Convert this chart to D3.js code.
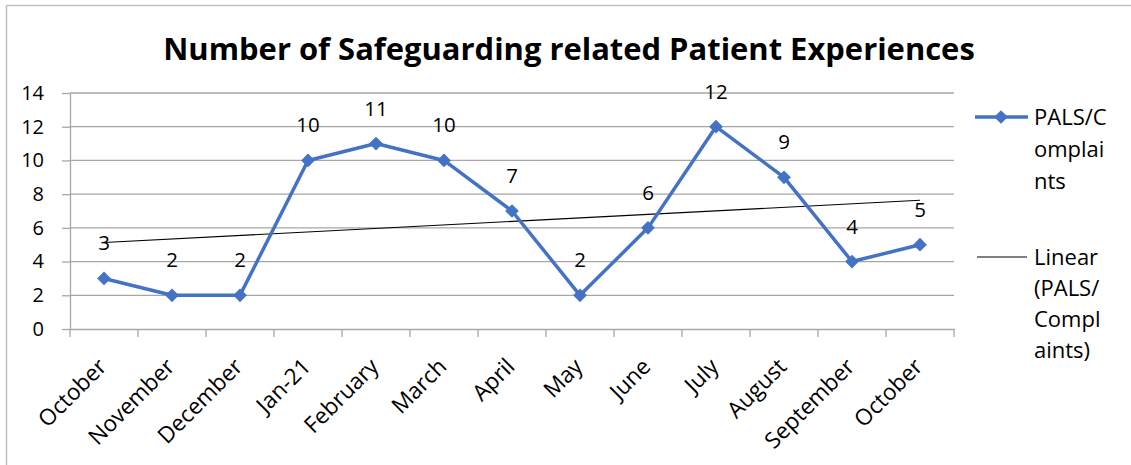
<!DOCTYPE html>
<html><head><meta charset="utf-8">
<script src="https://cdn.jsdelivr.net/npm/d3@7"></script>
<style>body{margin:0;background:#fff}svg{display:block}text{font-family:"Open Sans","Noto Sans",sans-serif}</style>
</head><body>
<svg id="c" width="1131" height="465"></svg>
<script>
const categories = ["October","November","December","Jan-21","February","March","April","May","June","July","August","September","October"];
const values = [3,2,2,10,11,10,7,2,6,12,9,4,5];
const yTicks = [0,2,4,6,8,10,12,14];
const title = "Number of Safeguarding related Patient Experiences";
const seriesName = ["PALS/C","omplai","nts"];
const trendName = ["Linear","(PALS/","Compl","aints)"];

const svg = d3.select("#c");
const blue = "#4472C4";
const grid = "#a6a6a6";
// chart border (top and left edges visible)
svg.append("line").attr("x1",6.5).attr("x2",1131).attr("y1",5.5).attr("y2",5.5).attr("stroke","#bfbfbf").attr("stroke-width",1.5);
svg.append("line").attr("x1",6.5).attr("x2",6.5).attr("y1",5.5).attr("y2",465).attr("stroke","#bfbfbf").attr("stroke-width",1.5);

const x = d3.scaleBand().domain(d3.range(categories.length)).range([70,954]);
const y = d3.scaleLinear().domain([0,14]).range([329,93]);

// gridlines
svg.append("g").selectAll("line").data(yTicks.slice(1)).join("line")
  .attr("x1",70).attr("x2",954).attr("y1",d=>y(d)).attr("y2",d=>y(d))
  .attr("stroke",grid).attr("stroke-width",1.3);

// y axis
const ya = svg.append("g").attr("transform","translate(70,0)").call(d3.axisLeft(y).tickValues(yTicks).tickSize(8).tickSizeOuter(0).tickPadding(18));
ya.select(".domain").attr("stroke",grid).attr("stroke-width",1.3);
ya.selectAll(".tick line").attr("stroke",grid).attr("stroke-width",1.3);
ya.selectAll("text").attr("font-size",20).attr("fill","#000").attr("font-family","'Open Sans',sans-serif");

// x axis
const xa = svg.append("g").attr("transform","translate(0,329)").call(d3.axisBottom(x).tickFormat(i=>categories[i]).tickSize(0).tickSizeOuter(0));
xa.select(".domain").attr("stroke",grid).attr("stroke-width",1.3);
xa.selectAll(".tick line").remove();
// category boundary ticks
svg.append("g").selectAll("line").data(d3.range(categories.length+1)).join("line")
  .attr("x1",i=>i<categories.length?x(i):x.range()[1]).attr("x2",i=>i<categories.length?x(i):x.range()[1])
  .attr("y1",329).attr("y2",337).attr("stroke",grid).attr("stroke-width",1.3);
xa.selectAll("text").attr("font-size",22.5).attr("fill","#000")
  .attr("text-anchor","end").attr("dy",0)
  .attr("transform",function(){return `translate(${x.bandwidth()/2+4},39) rotate(-45)`;})
  .attr("x",0).attr("y",0);
xa.selectAll(".tick").attr("transform",d=>`translate(${x(d)},0)`);

// trend line (least squares)
const n = values.length;
const mx = d3.mean(d3.range(n)), my = d3.mean(values);
const slope = d3.sum(d3.range(n),i=>(i-mx)*(values[i]-my))/d3.sum(d3.range(n),i=>(i-mx)*(i-mx));
const icpt = my - slope*mx;
const cx = i=>x(i)+x.bandwidth()/2;
svg.append("line").attr("x1",cx(0)).attr("x2",cx(n-1)).attr("y1",y(icpt)).attr("y2",y(icpt+slope*(n-1)))
  .attr("stroke","#000").attr("stroke-width",1.1);

// series line
svg.append("path").datum(values).attr("fill","none").attr("stroke",blue).attr("stroke-width",3.5).attr("stroke-linejoin","round")
  .attr("d",d3.line().x((d,i)=>cx(i)).y(d=>y(d)));
const diamond = d3.symbol().type(d3.symbolDiamond2).size(120);
svg.append("g").selectAll("path").data(values).join("path")
  .attr("d",diamond).attr("transform",(d,i)=>`translate(${cx(i)},${y(d)})`).attr("fill",blue);

// data labels
svg.append("g").selectAll("text").data(values).join("text")
  .attr("x",(d,i)=>cx(i)).attr("y",d=>y(d)-28).attr("text-anchor","middle")
  .attr("font-size",20.5).attr("fill","#000").text(d=>d);

// title
const t = svg.append("text").attr("x",569).attr("y",60).attr("text-anchor","middle")
  .attr("font-size",27).attr("font-weight","bold").attr("fill","#000").text(title);
const w = t.node().getComputedTextLength();
t.attr("font-size",27*812/w);

// legend
svg.append("line").attr("x1",975).attr("x2",1028).attr("y1",117).attr("y2",117).attr("stroke",blue).attr("stroke-width",3.5);
svg.append("path").attr("d",diamond).attr("transform","translate(1001,117)").attr("fill",blue);
svg.append("g").selectAll("text").data(seriesName).join("text")
  .attr("x",1034).attr("y",(d,i)=>125+i*32).attr("font-size",22).attr("fill","#000").text(d=>d);
svg.append("line").attr("x1",977).attr("x2",1027).attr("y1",257).attr("y2",257).attr("stroke","#000").attr("stroke-width",1.1);
svg.append("g").selectAll("text").data(trendName).join("text")
  .attr("x",1034).attr("y",(d,i)=>265+i*31).attr("font-size",22).attr("fill","#000").text(d=>d);
</script>
</body></html>
